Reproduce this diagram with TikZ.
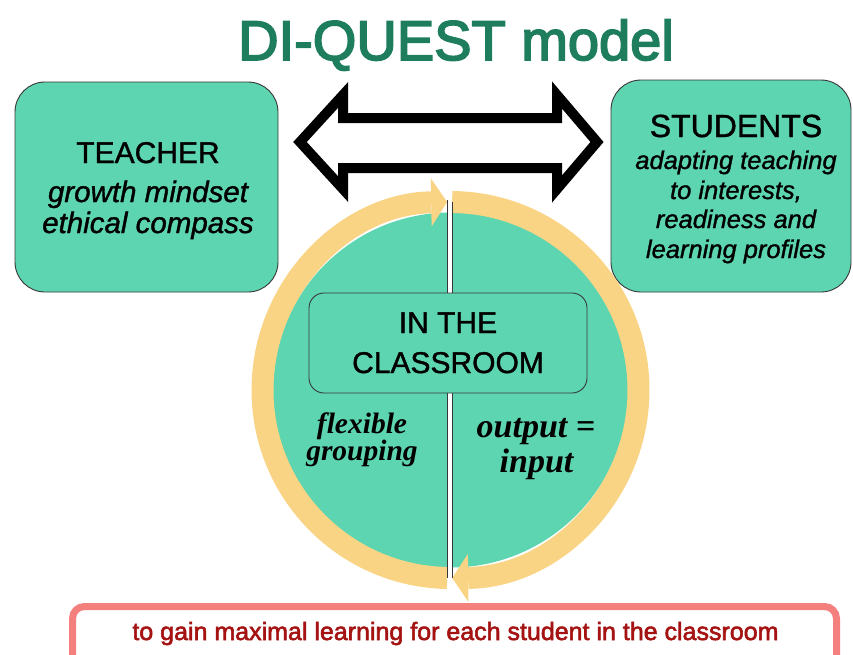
\documentclass[tikz,border=0pt]{standalone}
\usepackage{fontspec}
\setmainfont{Liberation Sans}[FakeBold=1.2]
\newfontfamily\headface{Liberation Sans}[FakeBold=3]
\newfontfamily\goalface{Liberation Sans}[FakeBold=2.2]
\newfontfamily\bookface{Liberation Serif}
\usetikzlibrary{arrows.meta}

\definecolor{mint}{RGB}{93,213,176}
\definecolor{ringgold}{RGB}{250,212,133}
\definecolor{titlegreen}{RGB}{30,125,92}
\definecolor{goalrim}{RGB}{243,128,125}
\definecolor{goalink}{RGB}{165,18,18}
\definecolor{edgegray}{RGB}{55,55,55}

\newcommand{\fsz}[1]{\fontsize{#1}{#1}\selectfont}

\tikzset{
  panel/.style={draw=edgegray, line width=0.9pt, fill=mint, rounded corners=30pt, inner sep=0pt},
  txt/.style={anchor=base, inner sep=0pt, text=black},
  heading/.style={txt, font=\fsz{#1}},
  remark/.style={txt, font=\fsz{#1}\itshape},
  boldremark/.style={txt, font=\fsz{#1}\bookface\bfseries\itshape},
  ring/.style={draw=ringgold, line width=22pt},
  ringtip/.style={-{Triangle[length=16pt,width=48pt,line width=0pt]}},
  outline arrow/.style={draw=black, line width=10pt, fill=white, line join=miter, miter limit=10},
}

\begin{document}
\begin{tikzpicture}[x=1pt,y=-1pt]
  \useasboundingbox (0,0) rectangle (853,654);
  \clip (0,0) rectangle (853,654);

  % title
  \node[txt, font=\fsz{56}\headface, text=titlegreen] (title) at (456,60) {DI-QUEST model};

  % teacher panel
  \node[panel, minimum width=263pt, minimum height=210pt] (teacher) at (146.5,187) {};
  \node[heading=30] (teacher-name) at (148,163) {TEACHER};
  \node[remark=29.5] (teacher-a) at (148,202) {growth mindset};
  \node[remark=29.5] (teacher-b) at (148,233) {ethical compass};

  % students panel
  \node[panel, minimum width=240pt, minimum height=212pt] (students) at (731,186) {};
  \node[heading=32] (students-name) at (736,137) {STUDENTS};
  \node[remark=25.5] (students-a) at (736,169) {adapting teaching};
  \node[remark=25.5] (students-b) at (736,199) {to interests,};
  \node[remark=25.5] (students-c) at (736,228) {readiness and};
  \node[remark=25.5] (students-d) at (736,258) {learning profiles};

  % two-headed outline arrow between the panels
  \draw[outline arrow] (300,142) -- (343,95) -- (343,118) -- (557,118) -- (557,95)
    -- (597,142) -- (557,189) -- (557,168) -- (343,168) -- (343,189) -- cycle;

  % classroom disc with its circulating ring
  \coordinate (hub) at (450.5,390);
  \fill[mint] (hub) circle[radius=177.5];
  \draw[ring, ringtip] (hub) ++(91:188) arc[start angle=91, end angle=269, radius=188];
  \draw[ring, ringtip] (hub) ++(270.5:188) arc[start angle=270.5, end angle=449.5, radius=188];

  % dividing line through the disc
  \fill[white] (448,200) rectangle (452,578);
  \draw[edgegray, line width=0.9pt] (447.8,200) -- (447.8,578) (452.2,202) -- (452.2,578);

  % centre panel
  \node[panel, rounded corners=15pt, minimum width=278pt, minimum height=100pt] (classroom) at (448,343) {};
  \node[heading=30] (classroom-a) at (448,333) {IN THE};
  \node[heading=30] (classroom-b) at (448,373) {CLASSROOM};

  \node[boldremark=29.5] (left-a) at (362,433) {flexible};
  \node[boldremark=29.5] (left-b) at (362,460) {grouping};
  \node[boldremark=34] (right-a) at (536,437) {output =};
  \node[boldremark=34] (right-b) at (536.5,472) {input};

  % goal strip
  \node[draw=goalrim, line width=7pt, fill=white, rounded corners=12pt,
        minimum width=764pt, minimum height=64pt, inner sep=0pt] (goal) at (454.5,638.5) {};
  \node[txt, font=\fsz{25}\goalface, text=goalink] (goal-text) at (455.5,640)
    {to gain maximal learning for each student in the classroom};
\end{tikzpicture}
\end{document}
